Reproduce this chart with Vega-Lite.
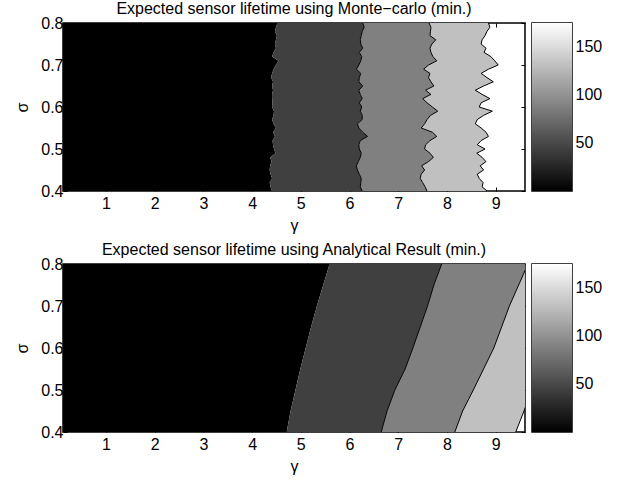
{
  "$schema": "https://vega.github.io/schema/vega-lite/v6.json",
  "background": "white",
  "padding": {"left": 14, "top": 0, "right": 0, "bottom": 0},
  "datasets": {
    "mc": [
      {"sigma": 0.80, "b1": 4.52, "b2": 6.27, "b3": 7.63, "b4": 8.85},
      {"sigma": 0.79, "b1": 4.49, "b2": 6.30, "b3": 7.67, "b4": 8.88},
      {"sigma": 0.78, "b1": 4.47, "b2": 6.26, "b3": 7.66, "b4": 8.82},
      {"sigma": 0.77, "b1": 4.51, "b2": 6.24, "b3": 7.65, "b4": 8.78},
      {"sigma": 0.76, "b1": 4.49, "b2": 6.22, "b3": 7.77, "b4": 8.72},
      {"sigma": 0.75, "b1": 4.47, "b2": 6.23, "b3": 7.69, "b4": 8.70},
      {"sigma": 0.74, "b1": 4.49, "b2": 6.27, "b3": 7.65, "b4": 8.80},
      {"sigma": 0.73, "b1": 4.44, "b2": 6.20, "b3": 7.67, "b4": 8.76},
      {"sigma": 0.72, "b1": 4.41, "b2": 6.25, "b3": 7.71, "b4": 8.90},
      {"sigma": 0.71, "b1": 4.54, "b2": 6.23, "b3": 7.79, "b4": 8.98},
      {"sigma": 0.70, "b1": 4.49, "b2": 6.19, "b3": 7.62, "b4": 9.05},
      {"sigma": 0.69, "b1": 4.44, "b2": 6.14, "b3": 7.52, "b4": 8.85},
      {"sigma": 0.68, "b1": 4.41, "b2": 6.23, "b3": 7.65, "b4": 8.70},
      {"sigma": 0.67, "b1": 4.39, "b2": 6.20, "b3": 7.62, "b4": 8.82},
      {"sigma": 0.66, "b1": 4.43, "b2": 6.19, "b3": 7.67, "b4": 8.95},
      {"sigma": 0.65, "b1": 4.41, "b2": 6.27, "b3": 7.73, "b4": 8.75},
      {"sigma": 0.64, "b1": 4.43, "b2": 6.19, "b3": 7.56, "b4": 8.58},
      {"sigma": 0.63, "b1": 4.41, "b2": 6.22, "b3": 7.67, "b4": 8.72},
      {"sigma": 0.62, "b1": 4.41, "b2": 6.26, "b3": 7.50, "b4": 8.88},
      {"sigma": 0.61, "b1": 4.42, "b2": 6.20, "b3": 7.59, "b4": 8.70},
      {"sigma": 0.60, "b1": 4.41, "b2": 6.25, "b3": 7.70, "b4": 8.66},
      {"sigma": 0.59, "b1": 4.45, "b2": 6.22, "b3": 7.81, "b4": 8.93},
      {"sigma": 0.58, "b1": 4.44, "b2": 6.26, "b3": 7.66, "b4": 8.75},
      {"sigma": 0.57, "b1": 4.41, "b2": 6.26, "b3": 7.59, "b4": 8.62},
      {"sigma": 0.56, "b1": 4.44, "b2": 6.16, "b3": 7.54, "b4": 8.58},
      {"sigma": 0.55, "b1": 4.49, "b2": 6.19, "b3": 7.47, "b4": 8.70},
      {"sigma": 0.54, "b1": 4.43, "b2": 6.27, "b3": 7.70, "b4": 8.80},
      {"sigma": 0.53, "b1": 4.47, "b2": 6.37, "b3": 7.79, "b4": 8.85},
      {"sigma": 0.52, "b1": 4.42, "b2": 6.22, "b3": 7.65, "b4": 8.70},
      {"sigma": 0.51, "b1": 4.43, "b2": 6.19, "b3": 7.56, "b4": 8.62},
      {"sigma": 0.50, "b1": 4.45, "b2": 6.20, "b3": 7.54, "b4": 8.78},
      {"sigma": 0.49, "b1": 4.48, "b2": 6.24, "b3": 7.65, "b4": 8.61},
      {"sigma": 0.48, "b1": 4.37, "b2": 6.22, "b3": 7.72, "b4": 8.72},
      {"sigma": 0.47, "b1": 4.40, "b2": 6.18, "b3": 7.62, "b4": 8.80},
      {"sigma": 0.46, "b1": 4.37, "b2": 6.14, "b3": 7.48, "b4": 8.68},
      {"sigma": 0.45, "b1": 4.36, "b2": 6.16, "b3": 7.54, "b4": 8.75},
      {"sigma": 0.44, "b1": 4.38, "b2": 6.20, "b3": 7.47, "b4": 8.62},
      {"sigma": 0.43, "b1": 4.41, "b2": 6.24, "b3": 7.45, "b4": 8.66},
      {"sigma": 0.42, "b1": 4.36, "b2": 6.23, "b3": 7.50, "b4": 8.74},
      {"sigma": 0.41, "b1": 4.38, "b2": 6.22, "b3": 7.55, "b4": 8.72},
      {"sigma": 0.40, "b1": 4.40, "b2": 6.26, "b3": 7.59, "b4": 8.82}
    ],
    "an": [
      {"sigma": 0.40, "b1": 4.71, "b2": 6.65, "b3": 8.16, "b4": 9.41},
      {"sigma": 0.45, "b1": 4.79, "b2": 6.77, "b3": 8.32, "b4": 9.58},
      {"sigma": 0.50, "b1": 4.89, "b2": 6.93, "b3": 8.54, "b4": 9.73},
      {"sigma": 0.55, "b1": 4.99, "b2": 7.14, "b3": 8.75, "b4": 9.88},
      {"sigma": 0.60, "b1": 5.10, "b2": 7.30, "b3": 8.96, "b4": 10.03},
      {"sigma": 0.65, "b1": 5.21, "b2": 7.45, "b3": 9.12, "b4": 10.18},
      {"sigma": 0.70, "b1": 5.33, "b2": 7.60, "b3": 9.28, "b4": 10.33},
      {"sigma": 0.75, "b1": 5.46, "b2": 7.73, "b3": 9.47, "b4": 10.48},
      {"sigma": 0.80, "b1": 5.59, "b2": 7.89, "b3": 9.66, "b4": 10.63}
    ],
    "cb": [{"lo": 0, "hi": 174}]
  },
  "vconcat": [
    {
      "hconcat": [
        {
          "title": "Expected sensor lifetime using Monte−carlo (min.)",
          "width": 462, "height": 168,
          "data": {"name": "mc"},
          "resolve": {"axis": {"x": "independent", "y": "independent"}},
          "layer": [
            {"mark": {"type": "area", "orient": "horizontal", "color": "#000000", "clip": true},
             "encoding": {
               "y": {"field": "sigma", "type": "quantitative", "scale": {"domain": [0.4, 0.8], "nice": false, "zero": false}, "axis": {"values": [0.4, 0.5, 0.6, 0.7, 0.8], "format": ".1f", "title": "σ", "labelPadding": 4, "titlePadding": 10}},
               "x": {"field": "b1", "type": "quantitative", "stack": null, "scale": {"domain": [0.12, 9.6], "nice": false, "zero": false}, "axis": {"values": [1, 2, 3, 4, 5, 6, 7, 8, 9], "title": "γ"}}}},
            {"mark": {"type": "area", "orient": "horizontal", "color": "#404040", "clip": true},
             "encoding": {
               "y": {"field": "sigma", "type": "quantitative", "axis": null},
               "x": {"field": "b1", "type": "quantitative", "axis": null},
               "x2": {"field": "b2"}}},
            {"mark": {"type": "area", "orient": "horizontal", "color": "#808080", "clip": true},
             "encoding": {
               "y": {"field": "sigma", "type": "quantitative", "axis": null},
               "x": {"field": "b2", "type": "quantitative", "axis": null},
               "x2": {"field": "b3"}}},
            {"mark": {"type": "area", "orient": "horizontal", "color": "#c0c0c0", "clip": true},
             "encoding": {
               "y": {"field": "sigma", "type": "quantitative", "axis": null},
               "x": {"field": "b3", "type": "quantitative", "axis": null},
               "x2": {"field": "b4"}}},
            {"mark": {"type": "line", "color": "black", "strokeWidth": 1, "clip": true},
             "encoding": {
               "y": {"field": "sigma", "type": "quantitative", "axis": null},
               "x": {"field": "b2", "type": "quantitative", "axis": null},
               "order": {"field": "sigma", "type": "quantitative"}}},
            {"mark": {"type": "line", "color": "black", "strokeWidth": 1, "clip": true},
             "encoding": {
               "y": {"field": "sigma", "type": "quantitative", "axis": null},
               "x": {"field": "b3", "type": "quantitative", "axis": null},
               "order": {"field": "sigma", "type": "quantitative"}}},
            {"mark": {"type": "line", "color": "black", "strokeWidth": 1, "clip": true},
             "encoding": {
               "y": {"field": "sigma", "type": "quantitative", "axis": {"orient": "right", "values": [0.4, 0.5, 0.6, 0.7, 0.8], "labels": false, "title": null}},
               "x": {"field": "b4", "type": "quantitative", "axis": {"orient": "top", "values": [1, 2, 3, 4, 5, 6, 7, 8, 9], "labels": false, "title": null}},
               "order": {"field": "sigma", "type": "quantitative"}}}
          ]
        },
        {
          "width": 40, "height": 168,
          "data": {"name": "cb"},
          "mark": {"type": "rect", "fill": {"gradient": "linear", "x1": 0, "y1": 1, "x2": 0, "y2": 0, "stops": [{"offset": 0, "color": "#000000"}, {"offset": 1, "color": "#ffffff"}]}},
          "encoding": {
            "y": {"field": "lo", "type": "quantitative", "scale": {"domain": [0, 174], "nice": false, "zero": false}, "axis": {"orient": "right", "values": [50, 100, 150], "ticks": false, "labelPadding": 3, "title": null}},
            "y2": {"field": "hi"}
          }
        }
      ]
    },
    {
      "hconcat": [
        {
          "title": "Expected sensor lifetime using Analytical Result (min.)",
          "width": 462, "height": 168,
          "data": {"name": "an"},
          "resolve": {"axis": {"x": "independent", "y": "independent"}},
          "layer": [
            {"mark": {"type": "area", "orient": "horizontal", "color": "#000000", "clip": true},
             "encoding": {
               "y": {"field": "sigma", "type": "quantitative", "scale": {"domain": [0.4, 0.8], "nice": false, "zero": false}, "axis": {"values": [0.4, 0.5, 0.6, 0.7, 0.8], "format": ".1f", "title": "σ", "labelPadding": 4, "titlePadding": 10}},
               "x": {"field": "b1", "type": "quantitative", "stack": null, "scale": {"domain": [0.12, 9.6], "nice": false, "zero": false}, "axis": {"values": [1, 2, 3, 4, 5, 6, 7, 8, 9], "title": "γ"}}}},
            {"mark": {"type": "area", "orient": "horizontal", "color": "#404040", "clip": true},
             "encoding": {
               "y": {"field": "sigma", "type": "quantitative", "axis": null},
               "x": {"field": "b1", "type": "quantitative", "axis": null},
               "x2": {"field": "b2"}}},
            {"mark": {"type": "area", "orient": "horizontal", "color": "#808080", "clip": true},
             "encoding": {
               "y": {"field": "sigma", "type": "quantitative", "axis": null},
               "x": {"field": "b2", "type": "quantitative", "axis": null},
               "x2": {"field": "b3"}}},
            {"mark": {"type": "area", "orient": "horizontal", "color": "#c0c0c0", "clip": true},
             "encoding": {
               "y": {"field": "sigma", "type": "quantitative", "axis": null},
               "x": {"field": "b3", "type": "quantitative", "axis": null},
               "x2": {"field": "b4"}}},
            {"mark": {"type": "line", "color": "black", "strokeWidth": 1, "clip": true},
             "encoding": {
               "y": {"field": "sigma", "type": "quantitative", "axis": null},
               "x": {"field": "b2", "type": "quantitative", "axis": null},
               "order": {"field": "sigma", "type": "quantitative"}}},
            {"mark": {"type": "line", "color": "black", "strokeWidth": 1, "clip": true},
             "encoding": {
               "y": {"field": "sigma", "type": "quantitative", "axis": null},
               "x": {"field": "b3", "type": "quantitative", "axis": null},
               "order": {"field": "sigma", "type": "quantitative"}}},
            {"mark": {"type": "line", "color": "black", "strokeWidth": 1, "clip": true},
             "encoding": {
               "y": {"field": "sigma", "type": "quantitative", "axis": {"orient": "right", "values": [0.4, 0.5, 0.6, 0.7, 0.8], "labels": false, "title": null}},
               "x": {"field": "b4", "type": "quantitative", "axis": {"orient": "top", "values": [1, 2, 3, 4, 5, 6, 7, 8, 9], "labels": false, "title": null}},
               "order": {"field": "sigma", "type": "quantitative"}}}
          ]
        },
        {
          "width": 40, "height": 168,
          "data": {"name": "cb"},
          "mark": {"type": "rect", "fill": {"gradient": "linear", "x1": 0, "y1": 1, "x2": 0, "y2": 0, "stops": [{"offset": 0, "color": "#000000"}, {"offset": 1, "color": "#ffffff"}]}},
          "encoding": {
            "y": {"field": "lo", "type": "quantitative", "scale": {"domain": [0, 174], "nice": false, "zero": false}, "axis": {"orient": "right", "values": [50, 100, 150], "ticks": false, "labelPadding": 3, "title": null}},
            "y2": {"field": "hi"}
          }
        }
      ]
    }
  ],
  "spacing": 7,
  "config": {
    "font": "Liberation Sans",
    "concat": {"spacing": 4},
    "view": {"stroke": "black", "strokeWidth": 1.5},
    "axis": {
      "labelFont": "Liberation Sans", "labelFontSize": 16, "labelColor": "black",
      "titleFont": "Liberation Sans", "titleFontSize": 16, "titleFontWeight": "normal", "titleColor": "black",
      "grid": false, "domain": false, "tickColor": "black", "tickSize": -4, "labelPadding": 8, "titlePadding": 6,
      "labelFlush": false, "labelOverlap": false
    },
    "title": {"font": "Liberation Sans", "fontSize": 16, "fontWeight": "normal", "color": "black", "offset": -2}
  }
}
